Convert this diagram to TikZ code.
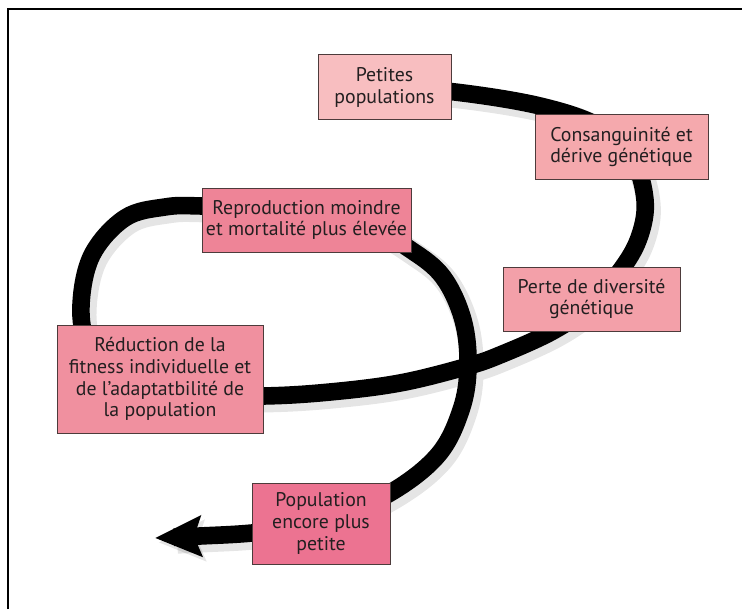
\documentclass[tikz,border=0pt]{standalone}
\usepackage{fontspec}
\setmainfont{PT Sans}
\usetikzlibrary{arrows.meta,backgrounds}
\definecolor{rose1}{RGB}{248,190,192}
\definecolor{rose2}{RGB}{245,169,173}
\definecolor{rose3}{RGB}{243,160,169}
\definecolor{rose4}{RGB}{240,144,159}
\definecolor{rose5}{RGB}{238,132,151}
\definecolor{rose6}{RGB}{236,115,145}
\definecolor{boxline}{RGB}{77,59,59}
\definecolor{ink}{RGB}{35,31,32}

\begin{document}
\begin{tikzpicture}[x=0.5pt, y=-0.5pt,
    box/.style    = {draw=boxline, line width=0.5pt, rectangle, inner sep=1pt, align=center, text=ink, font=\fontsize{9.9}{10.9}\selectfont},
    strand/.style = {line width=8.8pt, line cap=butt, -{Stealth[length=23pt,width=20pt,inset=3.5pt]}},
    strandshadow/.style = {preaction={draw=black, opacity=0.1, line width=12pt, transform canvas={shift={(1.8pt,-2.2pt)}}}}]

  \useasboundingbox (0,0) rectangle (742,609);

  \node[box, fill=rose1, minimum width=66.5pt, minimum height=32.5pt] (pet) at (384.5,87.5) {Petites\\populations};
  \node[box, fill=rose2, minimum width=86.5pt, minimum height=32pt] (cons) at (621.5,147) {Consanguinité et\\dérive génétique};
  \node[box, fill=rose3, minimum width=88.5pt, minimum height=32pt] (perte) at (591.5,299) {Perte de diversité\\génétique};
  \node[box, fill=rose4, minimum width=103pt, minimum height=54pt] (reduc) at (160,379) {Réduction de la\\fitness individuelle et\\de l’adaptatbilité de\\la population};
  \node[box, fill=rose5, minimum width=104.5pt, minimum height=32pt] (repro) at (306.5,220) {Reproduction moindre\\et mortalité plus élevée};
  \node[box, fill=rose6, minimum width=69pt, minimum height=40.5pt] (popu) at (321,523.5) {Population\\encore plus\\petite};
  \coordinate (tip) at (155,538);

  \begin{scope}[on background layer]
    \fill[white] (0,0) rectangle (742,609);
    \draw[black, line width=1pt] (7.7,609) -- (7.7,9) -- (742,9);
    % the spiral, behind the boxes
    \draw[strand, strandshadow] plot[smooth, tension=0.6] coordinates {(pet.center) (455,92) (540,106) (600,127) (633,160) (645,200) (640,235) (623,267) (590,305) (553,331) (500,355) (465,367) (400,383) (330,392) (263,396) (180,395) (115,378) (88,345) (81,305) (92,255) (125,218) (165,207) (202,206) (290,210) (370,228) (411,250) (443,277) (463,320) (468,367) (461,410) (438,455) (390,493) (320,525) (252,533) (200,536) (tip)};
  \end{scope}
\end{tikzpicture}
\end{document}
